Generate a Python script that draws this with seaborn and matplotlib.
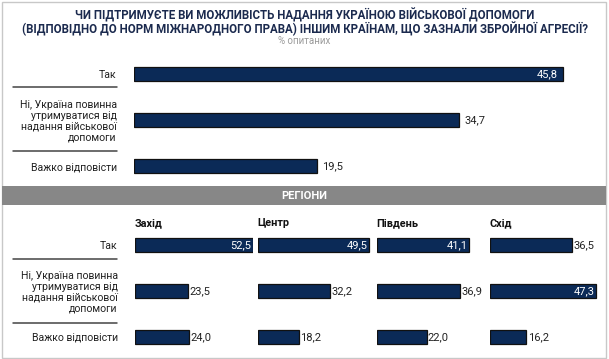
import numpy as np
import pandas as pd
import matplotlib
matplotlib.use("Agg")
import matplotlib.pyplot as plt
import seaborn as sns
from matplotlib.lines import Line2D
from matplotlib.patches import Rectangle

answers = ["Так",
           "Ні, Україна повинна\nутримуватися від\nнадання військової\nдопомоги",
           "Важко відповісти"]
total = [45.8, 34.7, 19.5]

regions = ["Захід", "Центр", "Південь", "Схід"]
zakhid = [52.5, 23.5, 24.0]
tsentr = [49.5, 32.2, 18.2]
pivden = [41.1, 36.9, 22.0]
skhid = [36.5, 47.3, 16.2]

sns.set_style("white")
plt.rcParams["font.family"] = ["Roboto", "DejaVu Sans"]

W, H = 609, 359
fig = plt.figure(figsize=(W / 100, H / 100), dpi=100)

bar_color = "#0b2a57"
navy = "#1b2a4e"


def px_axes(x0, y0, w, h):
    # pixel box (top-left origin) -> figure axes
    return fig.add_axes([x0 / W, 1 - (y0 + h) / H, w / W, h / H])


def fmt(v):
    return f"{v:.1f}".replace(".", ",")


def draw_bars(ax, values, xmax, show_labels):
    df = pd.DataFrame({"answer": answers, "value": values})
    sns.barplot(data=df, x="value", y="answer", ax=ax, color=bar_color,
                width=0.3, edgecolor="#111111", linewidth=0.9, saturation=1)
    ax.set_xlim(0, xmax)
    ax.set_ylim(2.5, -0.5)
    ax.set_xlabel("")
    ax.set_ylabel("")
    ax.set_xticks([])
    ax.patch.set_alpha(0)
    sns.despine(ax=ax, left=True, bottom=True)
    if show_labels:
        ax.tick_params(axis="y", length=0, pad=12.5)
        for t in ax.get_yticklabels():
            t.set_fontsize(7.6)
            t.set_color("#222222")
            t.set_linespacing(1.1)
    else:
        ax.set_yticks([])
    for p, v in zip(ax.patches, values):
        yc = p.get_y() + p.get_height() / 2
        if v >= 40:
            ax.text(p.get_width() - xmax * 0.012, yc, fmt(v), ha="right",
                    va="center", color="white", fontsize=8, clip_on=False)
        else:
            ax.text(p.get_width() + xmax * 0.012, yc, fmt(v), ha="left",
                    va="center", color="#222222", fontsize=8, clip_on=False)


# frame
fig.add_artist(Rectangle((2 / W, 1 / H), (W - 5) / W, (H - 3) / H,
                         transform=fig.transFigure, fill=False,
                         edgecolor="#c8c8c8", linewidth=1))

# title
fig.text(0.5, 1 - 15 / H, "ЧИ ПІДТРИМУЄТЕ ВИ МОЖЛИВІСТЬ НАДАННЯ УКРАЇНОЮ ВІЙСЬКОВОЇ ДОПОМОГИ",
         ha="center", va="center", fontsize=8.3, fontweight="bold", color=navy)
fig.text(0.5, 1 - 28.5 / H, "(ВІДПОВІДНО ДО НОРМ МІЖНАРОДНОГО ПРАВА) ІНШИМ КРАЇНАМ, ЩО ЗАЗНАЛИ ЗБРОЙНОЇ АГРЕСІЇ?",
         ha="center", va="center", fontsize=8.3, fontweight="bold", color=navy)
fig.text(0.5, 1 - 41 / H, "% опитаних", ha="center", va="center",
         fontsize=7, color="#9a9a9a")

# top block: all respondents
scale_top = 9.37
ax_top = px_axes(134, 51, 466, 138)
draw_bars(ax_top, total, 466 / scale_top, True)

# regions band
fig.add_artist(Rectangle((2 / W, 1 - 205 / H), (W - 5) / W, 19 / H,
                         transform=fig.transFigure, color="#878787", linewidth=0))
fig.text(0.5, 1 - 196 / H, "РЕГІОНИ", ha="center", va="center",
         fontsize=8, fontweight="bold", color="white")

scale_reg = 2.25
col_x = [135, 258, 377, 490]
for i, (name, vals) in enumerate(zip(regions, [zakhid, tsentr, pivden, skhid])):
    ax = px_axes(col_x[i], 222, 118, 138)
    draw_bars(ax, vals, 118 / scale_reg, i == 0)
    fig.text((col_x[i] - 0.5) / W, 1 - 223 / H, name, ha="left", va="center",
             fontsize=7.8, fontweight="bold", color="#111111")

# separators between answer rows
for y in [87, 151, 259, 323]:
    fig.add_artist(Line2D([13 / W, 117 / W], [1 - y / H, 1 - y / H],
                          transform=fig.transFigure, color="#444444", linewidth=1.1))

fig.savefig("out.png", dpi=100)
